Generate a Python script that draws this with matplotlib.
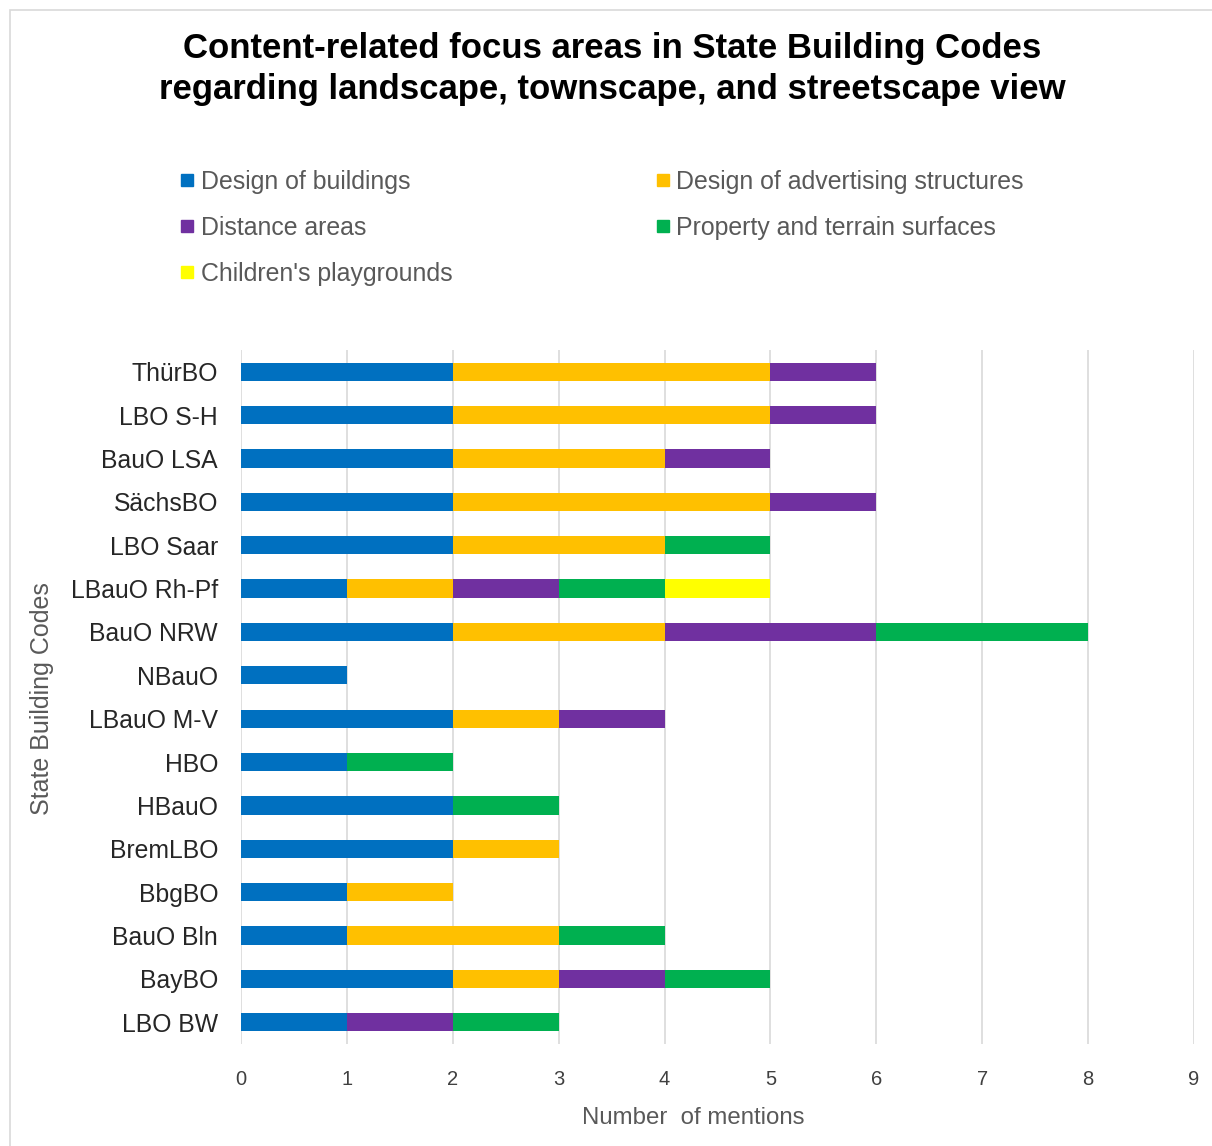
import matplotlib
matplotlib.use("Agg")
import matplotlib.pyplot as plt
from matplotlib.lines import Line2D
from matplotlib.patches import Rectangle
import numpy as np

plt.rcParams['font.family'] = ['Liberation Sans', 'DejaVu Sans']

codes = ["LBO BW", "BayBO", "BauO Bln", "BbgBO", "BremLBO", "HBauO", "HBO",
         "LBauO M-V", "NBauO", "BauO NRW", "LBauO Rh-Pf", "LBO Saar",
         "SächsBO", "BauO LSA", "LBO S-H", "ThürBO"]
series_names = ["Design of buildings", "Design of advertising structures",
                "Distance areas", "Property and terrain surfaces",
                "Children's playgrounds"]
buildings   = [1, 2, 1, 1, 2, 2, 1, 2, 1, 2, 1, 2, 2, 2, 2, 2]
advertising = [0, 1, 2, 1, 1, 0, 0, 1, 0, 2, 1, 2, 3, 2, 3, 3]
distance    = [1, 1, 0, 0, 0, 0, 0, 1, 0, 2, 1, 0, 1, 1, 1, 1]
property_   = [1, 1, 1, 0, 0, 1, 1, 0, 0, 2, 1, 1, 0, 0, 0, 0]
children    = [0, 0, 0, 0, 0, 0, 0, 0, 0, 0, 1, 0, 0, 0, 0, 0]
xticks = list(range(0, 10))

colors = ["#0070C0", "#FFC000", "#7030A0", "#00B050", "#FFFF00"]
series = [buildings, advertising, distance, property_, children]

fig = plt.figure(figsize=(12.12, 11.46), dpi=100)
fig.patches.append(Rectangle((10/1212, -0.01), 1.2, 1 - 10/1146 + 0.01,
                             transform=fig.transFigure, fill=False,
                             edgecolor="#D9D9D9", linewidth=1.2))

ax = fig.add_axes([241/1212, 1 - 1044/1146, (1194 - 241)/1212, (1044 - 350)/1146])
y = np.arange(len(codes))
left = np.zeros(len(codes))
for vals, c, name in zip(series, colors, series_names):
    ax.barh(y, vals, left=left, height=0.42, color=c, label=name, zorder=3)
    left += np.array(vals)

ax.set_xlim(0, 9)
ax.set_ylim(-0.5, len(codes) - 0.5)
ax.set_xticks(xticks)
ax.set_xticklabels([str(t) for t in xticks], fontsize=14.5, color="#404040")
ax.set_yticks(y)
ax.set_yticklabels(codes, fontsize=17.8, color="#262626")
ax.tick_params(axis='both', length=0)
ax.tick_params(axis='x', pad=19)
ax.tick_params(axis='y', pad=16.5)
ax.grid(axis='x', color="#D9D9D9", linewidth=1.2, zorder=0)
for s in ax.spines.values():
    s.set_visible(False)

fig.text(693/1212, 1 - 1118/1146, "Number  of mentions", fontsize=17.3,
         color="#595959", ha='center', va='center')
fig.text(42/1212, 1 - 699/1146, "State Building Codes", rotation=90,
         fontsize=18, color="#595959", ha='center', va='center')

fig.text(612/1212, 1 - 69/1146,
         "Content-related focus areas in State Building Codes\nregarding landscape, townscape, and streetscape view",
         ha='center', va='center', fontsize=25, fontweight='bold',
         color="#000000", linespacing=1.3)

handles = [Line2D([], [], marker='s', linestyle='none', markersize=9,
                  markerfacecolor=c, markeredgecolor=c) for c in colors]
order = [0, 2, 4, 1, 3]
leg = fig.legend([handles[i] for i in order], [series_names[i] for i in order],
                 ncol=2, loc='upper left', bbox_to_anchor=(181/1212, 1 - 170/1146),
                 frameon=False, fontsize=17.9, handlelength=0.5, handletextpad=0.3,
                 labelspacing=0.88, columnspacing=8.2, borderpad=0, borderaxespad=0)
for t in leg.get_texts():
    t.set_color("#595959")

fig.savefig("out.png", dpi=100)
